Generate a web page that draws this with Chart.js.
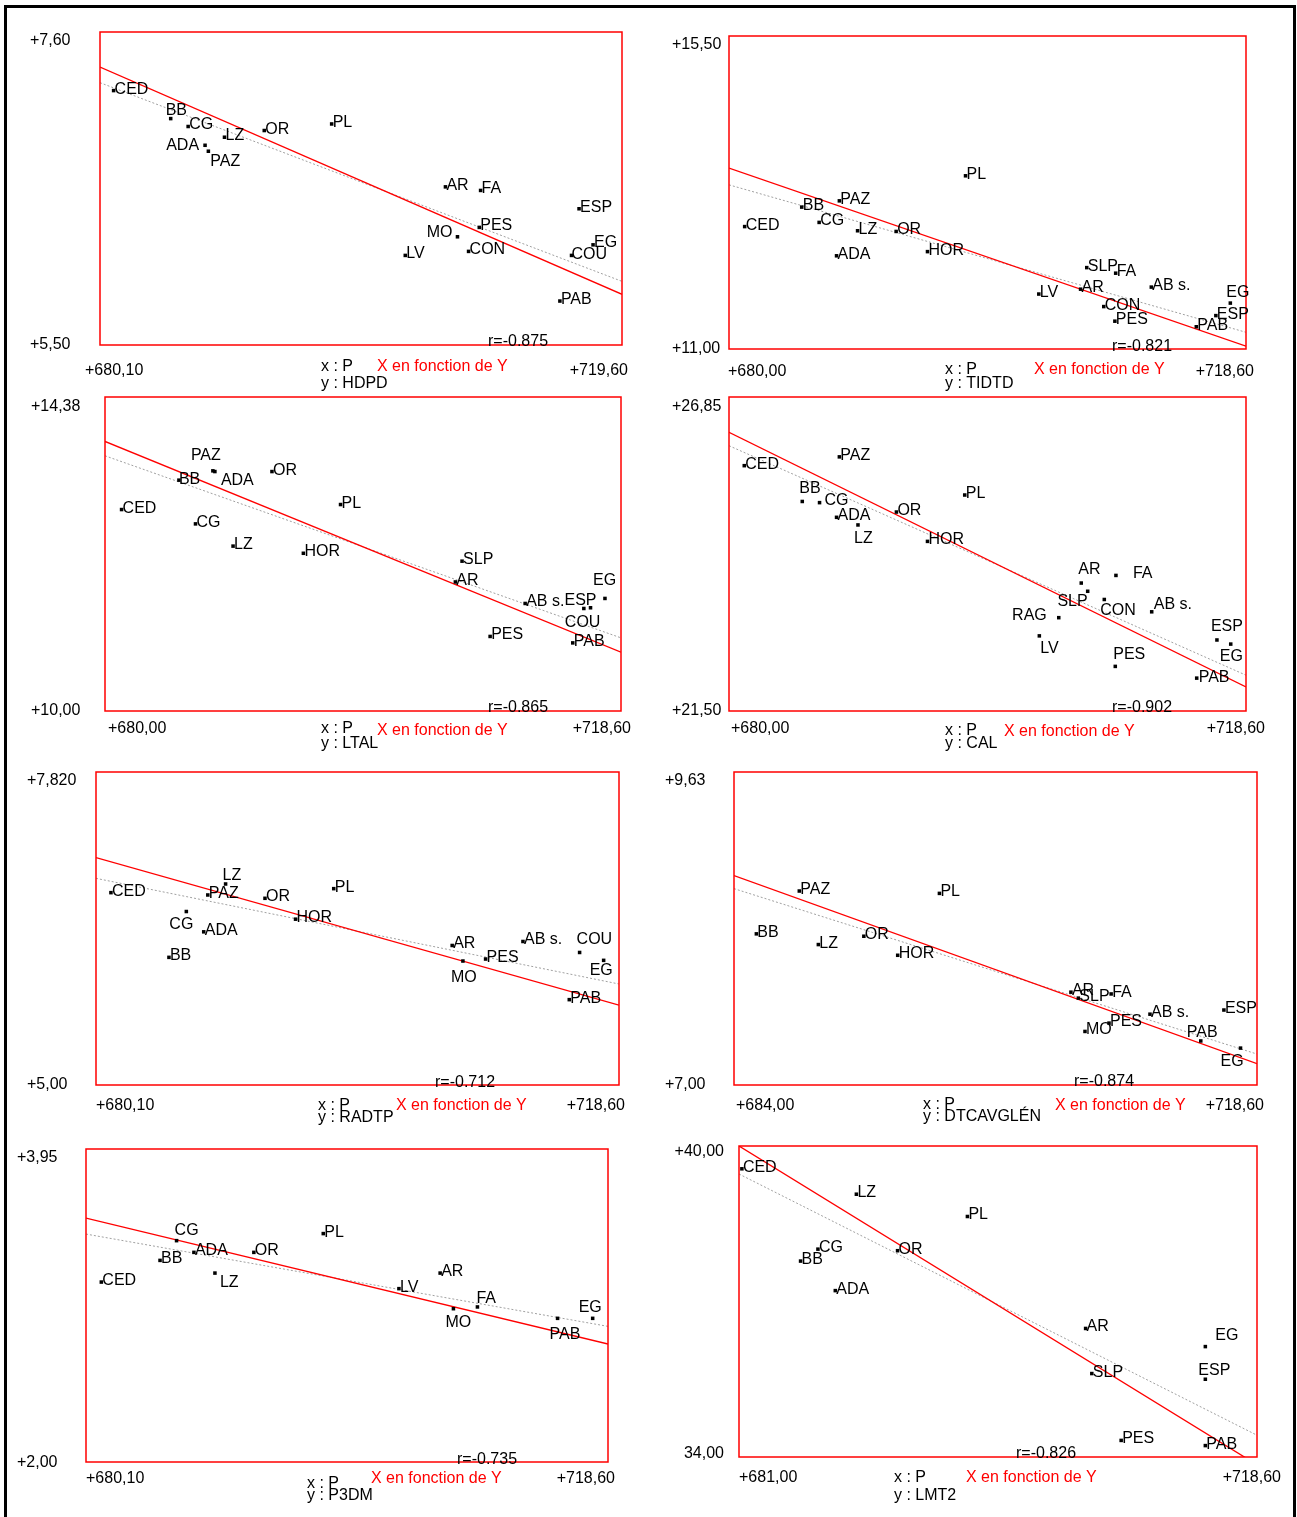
<!DOCTYPE html>
<html><head><meta charset="utf-8">
<script src="https://cdn.jsdelivr.net/npm/chart.js@4.4.1/dist/chart.umd.min.js"></script>
<style>
html,body{margin:0;padding:0;background:#fff;}
#page{position:relative;width:1297px;height:1517px;overflow:hidden;background:#fff;}
#page canvas{position:absolute;left:0;top:0;}
.bar{position:absolute;background:#000;}
</style></head>
<body><div id="page">
<div class="bar" style="left:4px;top:5px;width:1292px;height:3px"></div>
<div class="bar" style="left:4px;top:5px;width:3px;height:1512px"></div>
<div class="bar" style="left:1293px;top:5px;width:3px;height:1512px"></div>
</div>
<script>
// ---------- DATA ----------
// 1: HDPD
const HDPD_NAMES = ['CED','BB','CG','LZ','ADA','PAZ','OR','PL','AR','FA','ESP','PES','MO','EG','COU','CON','LV','PAB'];
const HDPD_P     = [681.13,685.45,686.77,689.52,688.05,688.30,692.53,697.63,706.24,708.90,716.35,708.80,707.15,717.41,715.78,707.99,703.20,714.90];
const HDPD_VAL   = [7.207,7.019,6.966,6.894,6.840,6.800,6.939,6.983,6.561,6.537,6.414,6.289,6.226,6.172,6.101,6.128,6.101,5.795];
const HDPD_XRANGE = [680.10, 719.60], HDPD_YRANGE = [5.50, 7.60];
const HDPD_FIT = [7.365, 5.840], HDPD_FIT2 = [7.260, 5.927];
const HDPD_XTICKS = ['+680,10','+719,60'], HDPD_YTICKS = ['+5,50','+7,60'];
const HDPD_R = 'r=-0.875';

// 2: TIDTD
const TIDTD_NAMES = ['CED','BB','PAZ','CG','LZ','OR','ADA','HOR','PL','SLP','FA','AB s.','LV','AR','CON','PES','EG','ESP','PAB'];
const TIDTD_P     = [681.17,685.43,688.24,686.73,689.60,692.48,688.03,694.82,697.66,706.71,708.87,711.53,703.13,706.25,707.98,708.81,717.43,716.35,714.89];
const TIDTD_VAL   = [12.76,13.04,13.13,12.82,12.70,12.69,12.34,12.40,13.49,12.17,12.09,11.89,11.79,11.86,11.61,11.40,11.66,11.48,11.32];
const TIDTD_XRANGE = [680.00, 718.60], TIDTD_YRANGE = [11.00, 15.50];
const TIDTD_FIT = [13.60, 11.04], TIDTD_FIT2 = [13.36, 11.24];
const TIDTD_XTICKS = ['+680,00','+718,60'], TIDTD_YTICKS = ['+11,00','+15,50'];
const TIDTD_R = 'r=-0.821';

// 3: LTAL
const LTAL_NAMES = ['PAZ','ADA','BB','OR','CED','PL','CG','LZ','HOR','SLP','AR','AB s.','EG','ESP','COU','PES','PAB'];
const LTAL_P     = [688.07,688.22,685.53,692.49,681.24,697.62,686.77,689.58,694.84,706.71,706.21,711.43,717.40,716.32,715.82,708.81,714.99];
const LTAL_VAL   = [13.35,13.34,13.22,13.34,12.81,12.88,12.61,12.30,12.20,12.09,11.80,11.50,11.57,11.44,11.43,11.04,10.95];
const LTAL_XRANGE = [680.00, 718.60], LTAL_YRANGE = [10.00, 14.38];
const LTAL_FIT = [13.76, 10.82], LTAL_FIT2 = [13.56, 11.02];
const LTAL_XTICKS = ['+680,00','+718,60'], LTAL_YTICKS = ['+10,00','+14,38'];
const LTAL_R = 'r=-0.865';

// 4: CAL
const CAL_NAMES = ['CED','PAZ','BB','CG','ADA','LZ','OR','PL','HOR','AR','SLP','CON','FA','AB s.','RAG','LV','PES','ESP','EG','PAB'];
const CAL_P     = [681.14,688.24,685.47,686.76,688.03,689.63,692.50,697.60,694.82,706.30,706.78,708.02,708.89,711.56,704.62,703.17,708.84,716.43,717.46,714.92];
const CAL_VAL   = [25.68,25.83,25.07,25.05,24.80,24.67,24.89,25.18,24.39,23.68,23.54,23.40,23.81,23.19,23.09,22.78,22.26,22.71,22.64,22.06];
const CAL_XRANGE = [680.00, 718.60], CAL_YRANGE = [21.50, 26.85];
const CAL_FIT = [26.25, 21.91], CAL_FIT2 = [26.02, 22.11];
const CAL_XTICKS = ['+680,00','+718,60'], CAL_YTICKS = ['+21,50','+26,85'];
const CAL_R = 'r=-0.902';

// 5: RADTP
const RADTP_NAMES = ['LZ','CED','PAZ','OR','PL','CG','HOR','ADA','BB','AR','AB s.','COU','MO','PES','EG','PAB'];
const RADTP_P     = [689.64,681.20,688.33,692.54,697.60,686.75,694.79,688.03,685.47,706.32,711.53,715.70,707.11,708.78,717.47,714.94];
const RADTP_VAL   = [6.811,6.733,6.712,6.682,6.769,6.563,6.494,6.380,6.150,6.257,6.293,6.194,6.117,6.135,6.123,5.769];
const RADTP_XRANGE = [680.10, 718.60], RADTP_YRANGE = [5.00, 7.820];
const RADTP_FIT = [7.048, 5.719], RADTP_FIT2 = [6.862, 5.910];
const RADTP_XTICKS = ['+680,10','+718,60'], RADTP_YTICKS = ['+5,00','+7,820'];
const RADTP_R = 'r=-0.712';

// 6: DTCAVGLÉN
const DTC_NAMES = ['PAZ','PL','BB','LZ','OR','HOR','AR','SLP','FA','AB s.','ESP','PES','MO','PAB','EG'];
const DTC_P     = [688.32,697.59,685.48,689.58,692.59,694.83,706.29,706.78,708.95,711.52,716.41,708.81,707.22,714.88,717.51];
const DTC_VAL   = [8.63,8.61,8.27,8.18,8.25,8.09,7.78,7.73,7.765,7.595,7.63,7.52,7.45,7.37,7.31];
const DTC_XRANGE = [684.00, 718.60], DTC_YRANGE = [7.00, 9.63];
const DTC_FIT = [8.76, 7.18], DTC_FIT2 = [8.65, 7.26];
const DTC_XTICKS = ['+684,00','+718,60'], DTC_YTICKS = ['+7,00','+9,63'];
const DTC_R = 'r=-0.874';

// 7: P3DM
const P3DM_NAMES = ['CG','PL','ADA','OR','BB','LZ','CED','AR','LV','FA','MO','PAB','EG'];
const P3DM_P     = [686.78,697.60,688.06,692.48,685.56,689.61,681.23,706.22,703.18,708.97,707.20,714.88,717.47];
const P3DM_VAL   = [3.379,3.423,3.306,3.306,3.256,3.177,3.121,3.177,3.080,2.966,2.955,2.895,2.895];
const P3DM_XRANGE = [680.10, 718.60], P3DM_YRANGE = [2.00, 3.95];
const P3DM_FIT = [3.520, 2.735], P3DM_FIT2 = [3.420, 2.845];
const P3DM_XTICKS = ['+680,10','+718,60'], P3DM_YTICKS = ['+2,00','+3,95'];
const P3DM_R = 'r=-0.735';

// 8: LMT2
const LMT2_NAMES = ['CED','LZ','PL','CG','OR','BB','ADA','AR','EG','SLP','ESP','PES','PAB'];
const LMT2_P     = [681.21,689.52,697.58,686.73,692.51,685.47,687.99,706.16,714.85,706.61,714.85,708.74,714.85];
const LMT2_VAL   = [39.56,39.07,38.64,38.01,37.98,37.78,37.21,36.48,36.13,35.61,35.50,34.32,34.22];
const LMT2_XRANGE = [681.00, 718.60], LMT2_YRANGE = [34.00, 40.00];
const LMT2_FIT = [40.00, 33.85], LMT2_FIT2 = [39.46, 34.42];
const LMT2_XTICKS = ['+681,00','+718,60'], LMT2_YTICKS = ['34,00','+40,00'];
const LMT2_R = 'r=-0.826';

// ---------- LAYOUT (positions, not data) ----------
const LAYOUT = [
  {rect:[100,32,622,345], yLab:{dx:-70, align:'left', top:13, bot:4}, xTick:{base:30, left:-15, right:6},
   cap:{xp:[321,26], yv:[321,43], red:[377,26], r:[488,1]},
   lab:{'BB':[-5,-4],'ADA':[-6,5,'right'],'PAZ':[2,15],'MO':[-5,0,'right'],'EG':[1,2],'COU':[0,4]}},
  {rect:[729,36,1246,349], yLab:{dx:-57, align:'left', top:13, bot:4}, xTick:{base:27, left:-1, right:8},
   cap:{xp:[945,25], yv:[945,39], red:[1034,25], r:[1112,2]},
   lab:{'EG':[-4,-6]}},
  {rect:[105,397,621,711], yLab:{dx:-74, align:'left', top:14, bot:4}, xTick:{base:22, left:3, right:10},
   cap:{xp:[321,22], yv:[321,37], red:[377,24], r:[488,1]},
   lab:{'PAZ':[-22,-11],'ADA':[6,13],'BB':[0,4],'EG':[-12,-13],'ESP':[-26,-3],'COU':[-19,19]}},
  {rect:[729,397,1246,711], yLab:{dx:-57, align:'left', top:14, bot:4}, xTick:{base:22, left:2, right:19},
   cap:{xp:[945,24], yv:[945,37], red:[1004,25], r:[1112,1]},
   lab:{'BB':[-3,-8],'CG':[5,2],'LZ':[-4,18],'AR':[-3,-9],'SLP':[0,15,'right'],'CON':[-4,16],'FA':[17,3],
        'AB s.':[2,-3],'RAG':[-12,2,'right'],'LV':[1,17],'PES':[-2,-7],'ESP':[-6,-9],'EG':[-11,17],'PAB':[2,4]}},
  {rect:[96,772,619,1085], yLab:{dx:-69, align:'left', top:13, bot:4}, xTick:{base:25, left:0, right:6},
   cap:{xp:[318,25], yv:[318,37], red:[396,25], r:[435,2]},
   lab:{'LZ':[-3,-4],'CG':[-17,17],'COU':[-3,-8],'MO':[-12,21],'EG':[-14,15]}},
  {rect:[734,772,1257,1085], yLab:{dx:-69, align:'left', top:13, bot:4}, xTick:{base:25, left:2, right:7},
   cap:{xp:[923,24], yv:[923,36], red:[1055,25], r:[1074,1]},
   lab:{'PAB':[-14,-4],'EG':[-20,18]}},
  {rect:[86,1149,608,1462], yLab:{dx:-69, align:'left', top:13, bot:5}, xTick:{base:21, left:0, right:7},
   cap:{xp:[307,26], yv:[307,38], red:[371,21], r:[457,2]},
   lab:{'CG':[-2,-6],'LZ':[5,14],'FA':[-1,-4],'MO':[-8,18],'PAB':[-8,21],'EG':[-14,-6]}},
  {rect:[739,1146,1257,1457], yLab:{dx:-15, align:'right', top:10, bot:1}, xTick:{base:25, left:0, right:24},
   cap:{xp:[894,25], yv:[894,43], red:[966,25], r:[1016,1]},
   lab:{'EG':[10,-7],'ESP':[-7,-4]}}
];

const PANELS = [
  {names:HDPD_NAMES, x:HDPD_P, y:HDPD_VAL, xr:HDPD_XRANGE, yr:HDPD_YRANGE, fit:HDPD_FIT, fit2:HDPD_FIT2, xt:HDPD_XTICKS, yt:HDPD_YTICKS, r:HDPD_R, yvar:'HDPD'},
  {names:TIDTD_NAMES, x:TIDTD_P, y:TIDTD_VAL, xr:TIDTD_XRANGE, yr:TIDTD_YRANGE, fit:TIDTD_FIT, fit2:TIDTD_FIT2, xt:TIDTD_XTICKS, yt:TIDTD_YTICKS, r:TIDTD_R, yvar:'TIDTD'},
  {names:LTAL_NAMES, x:LTAL_P, y:LTAL_VAL, xr:LTAL_XRANGE, yr:LTAL_YRANGE, fit:LTAL_FIT, fit2:LTAL_FIT2, xt:LTAL_XTICKS, yt:LTAL_YTICKS, r:LTAL_R, yvar:'LTAL'},
  {names:CAL_NAMES, x:CAL_P, y:CAL_VAL, xr:CAL_XRANGE, yr:CAL_YRANGE, fit:CAL_FIT, fit2:CAL_FIT2, xt:CAL_XTICKS, yt:CAL_YTICKS, r:CAL_R, yvar:'CAL'},
  {names:RADTP_NAMES, x:RADTP_P, y:RADTP_VAL, xr:RADTP_XRANGE, yr:RADTP_YRANGE, fit:RADTP_FIT, fit2:RADTP_FIT2, xt:RADTP_XTICKS, yt:RADTP_YTICKS, r:RADTP_R, yvar:'RADTP'},
  {names:DTC_NAMES, x:DTC_P, y:DTC_VAL, xr:DTC_XRANGE, yr:DTC_YRANGE, fit:DTC_FIT, fit2:DTC_FIT2, xt:DTC_XTICKS, yt:DTC_YTICKS, r:DTC_R, yvar:'DTCAVGLÉN'},
  {names:P3DM_NAMES, x:P3DM_P, y:P3DM_VAL, xr:P3DM_XRANGE, yr:P3DM_YRANGE, fit:P3DM_FIT, fit2:P3DM_FIT2, xt:P3DM_XTICKS, yt:P3DM_YTICKS, r:P3DM_R, yvar:'P3DM'},
  {names:LMT2_NAMES, x:LMT2_P, y:LMT2_VAL, xr:LMT2_XRANGE, yr:LMT2_YRANGE, fit:LMT2_FIT, fit2:LMT2_FIT2, xt:LMT2_XTICKS, yt:LMT2_YTICKS, r:LMT2_R, yvar:'LMT2'}
];

const W = 1297, H = 1517;
const FONT = '16px "Liberation Sans", Arial, sans-serif';

const annotPlugin = {
  id: 'annot',
  afterDatasetsDraw(chart, args, opts) {
    const P = opts.panel, L = opts.layout;
    const ctx = chart.ctx, a = chart.chartArea;
    const xs = chart.scales.x, ys = chart.scales.y;
    ctx.save();
    // plot frame
    ctx.strokeStyle = '#ff0000';
    ctx.lineWidth = 1.5;
    ctx.strokeRect(a.left, a.top, a.right - a.left, a.bottom - a.top);
    ctx.font = FONT;
    ctx.fillStyle = '#000';
    ctx.textBaseline = 'alphabetic';
    // point labels
    const meta = chart.getDatasetMeta(0);
    meta.data.forEach((el, i) => {
      const name = P.names[i];
      const off = L.lab[name] || [1, 3];
      ctx.textAlign = off[2] || 'left';
      ctx.fillText(name, el.x + off[0], el.y + off[1]);
    });
    // axis end labels
    const xl = xs.getPixelForValue(xs.min), xr = xs.getPixelForValue(xs.max);
    const yb = ys.getPixelForValue(ys.min), yt = ys.getPixelForValue(ys.max);
    ctx.textAlign = L.yLab.align;
    ctx.fillText(P.yt[1], xl + L.yLab.dx, yt + L.yLab.top);
    ctx.fillText(P.yt[0], xl + L.yLab.dx, yb + L.yLab.bot);
    ctx.textAlign = 'left';
    ctx.fillText(P.xt[0], xl + L.xTick.left, yb + L.xTick.base);
    ctx.textAlign = 'right';
    ctx.fillText(P.xt[1], xr + L.xTick.right, yb + L.xTick.base);
    // captions
    ctx.textAlign = 'left';
    ctx.fillText('x : P', L.cap.xp[0], yb + L.cap.xp[1]);
    ctx.fillText('y : ' + P.yvar, L.cap.yv[0], yb + L.cap.yv[1]);
    ctx.fillText(P.r, L.cap.r[0], yb + L.cap.r[1]);
    ctx.fillStyle = '#ff0000';
    ctx.fillText('X en fonction de Y', L.cap.red[0], yb + L.cap.red[1]);
    ctx.restore();
  }
};

const page = document.getElementById('page');
PANELS.forEach((P, k) => {
  const L = LAYOUT[k];
  const cv = document.createElement('canvas');
  cv.width = W; cv.height = H;
  cv.style.width = W + 'px'; cv.style.height = H + 'px';
  page.appendChild(cv);
  const pts = P.x.map((v, i) => ({x: v, y: P.y[i]}));
  const fitLine = [{x: P.xr[0], y: P.fit[0]}, {x: P.xr[1], y: P.fit[1]}];
  const fitLine2 = [{x: P.xr[0], y: P.fit2[0]}, {x: P.xr[1], y: P.fit2[1]}];
  new Chart(cv, {
    type: 'scatter',
    data: {
      datasets: [
        {data: pts, pointStyle: 'rect', pointRadius: 2.5, pointBorderWidth: 0,
         backgroundColor: '#000', borderColor: '#000', showLine: false, order: 0},
        {data: fitLine, showLine: true, pointRadius: 0, borderColor: '#ff0000', borderWidth: 1.3, order: 1},
        {data: fitLine2, showLine: true, pointRadius: 0, borderColor: '#a0a0a0', borderWidth: 1,
         borderDash: [2, 2], order: 2}
      ]
    },
    options: {
      responsive: false,
      animation: false,
      events: [],
      devicePixelRatio: 1,
      layout: {padding: {left: L.rect[0], top: L.rect[1], right: W - L.rect[2], bottom: H - L.rect[3]}},
      scales: {
        x: {type: 'linear', min: P.xr[0], max: P.xr[1], display: false},
        y: {type: 'linear', min: P.yr[0], max: P.yr[1], display: false}
      },
      plugins: {
        legend: {display: false},
        tooltip: {enabled: false},
        annot: {panel: P, layout: L}
      }
    },
    plugins: [annotPlugin]
  });
});
</script>
</body></html>
